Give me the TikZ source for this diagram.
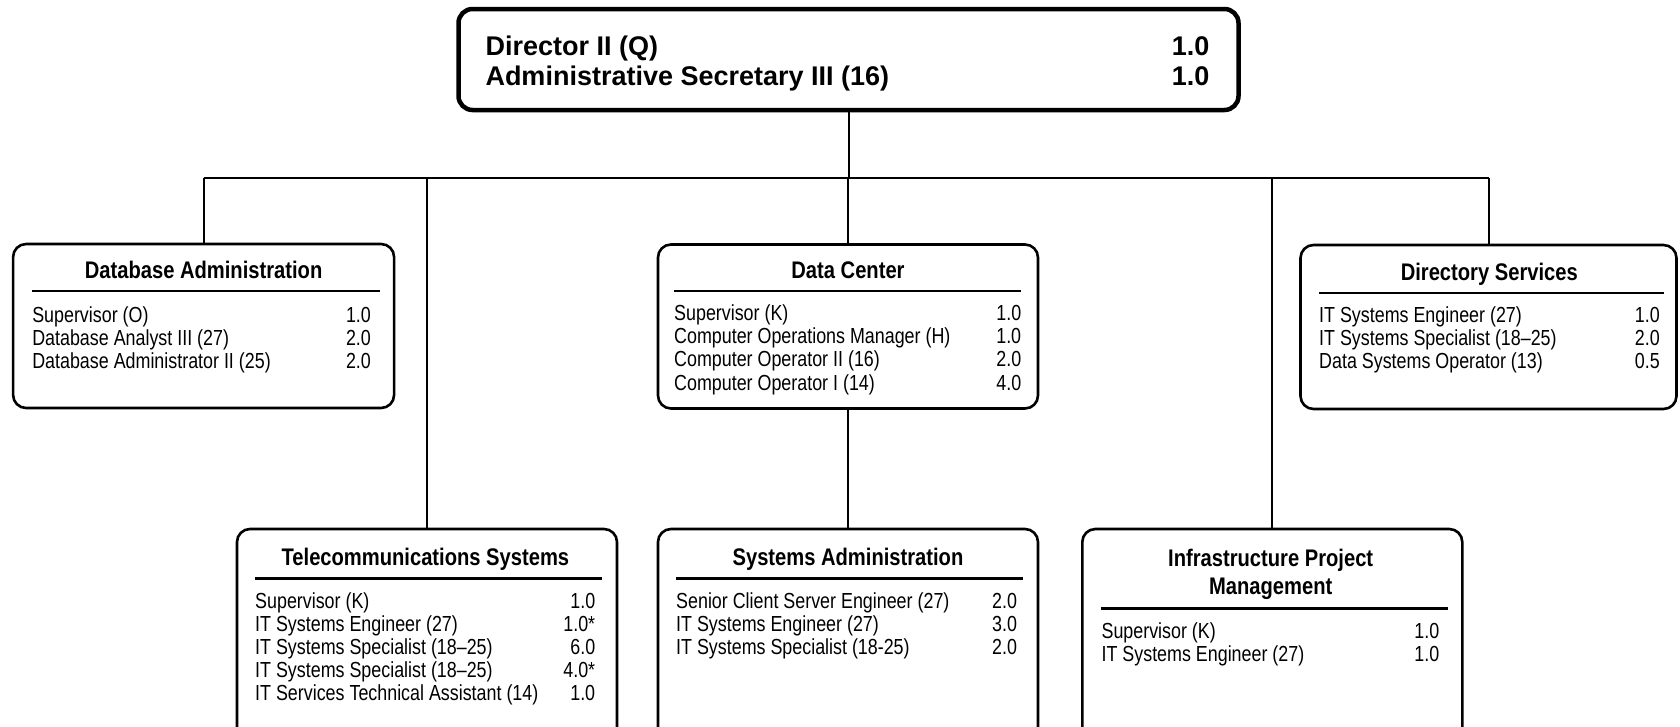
\documentclass[tikz,border=0pt]{standalone}
\usepackage{fontspec}
\setmainfont{Liberation Sans}[FakeStretch=0.82]
\newfontfamily\titlefam{Liberation Sans}[FakeStretch=0.84]
\newfontfamily\topfont{Liberation Sans}[FakeStretch=1.0]
\newcommand{\itemfont}{\fontsize{21.8}{23.2}\selectfont}
\newcommand{\titlefont}{\titlefam\bfseries\fontsize{24}{26}\selectfont}
\begin{document}
\begin{tikzpicture}[x=1pt,y=-1pt,
  unitbox/.style={draw, line width=2.6pt, rounded corners=13pt, inner sep=0pt},
  topbox/.style={draw, line width=4.5pt, rounded corners=14pt, inner sep=0pt},
  conn/.style={line width=2pt},
  rulebar/.style={line width=2.6pt},
  ttl/.style={anchor=base, inner sep=0pt, font=\titlefont},
  roster/.style={anchor=base west, inner sep=0pt, font=\itemfont}]
\useasboundingbox (0,0) rectangle (1680,726);
\fill[white] (0,0) rectangle (1680,726);
\begin{scope}
\clip (0,0) rectangle (1680,726);
% boxes
\node[topbox, minimum width=780pt, minimum height=101pt] (top) at (848.5,59.5) {};
\node[unitbox, minimum width=381pt, minimum height=164pt] (dba) at (203.6,326) {};
\node[unitbox, minimum width=380pt, minimum height=164pt] (dc) at (848,326.5) {};
\node[unitbox, minimum width=376pt, minimum height=164pt] (dir) at (1488.5,327) {};
\node[unitbox, minimum width=380pt, minimum height=211pt] (tel) at (427,634.5) {};
\node[unitbox, minimum width=380pt, minimum height=211pt] (sa) at (848,634.5) {};
\node[unitbox, minimum width=380pt, minimum height=211pt] (inf) at (1272.3,634.5) {};
% connectors
\coordinate (bus) at (848,178);
\draw[conn] (top.south) -- (top.south |- bus);
\draw[conn] (dba.north |- bus) -- (dir.north |- bus);
\draw[conn] (dba.north |- bus) -- (dba.north);
\draw[conn] (tel.north |- bus) -- (tel.north);
\draw[conn] (dc.north |- bus) -- (dc.north);
\draw[conn] (inf.north |- bus) -- (inf.north);
\draw[conn] (dir.north |- bus) -- (dir.north);
\draw[conn] (dc.south) -- (sa.north);
% top box text
\node[anchor=base west, inner sep=0pt, font=\topfont\bfseries\fontsize{27}{30}\selectfont] (toptext) at (485.3,55.5)
  {\begin{tabular*}{724pt}[t]{@{}l@{\extracolsep{\fill}}r@{}}
   Director II (Q) & 1.0\\
   Administrative Secretary III (16) & 1.0
   \end{tabular*}};
% Database Administration
\node[ttl] (dbat) at (203.6,278) {Database Administration};
\draw[rulebar] (32.1,291) -- (380.3,291);
\node[roster] (dbal) at (32.1,322.5)
  {\begin{tabular*}{338.6pt}[t]{@{}l@{\extracolsep{\fill}}r@{}}
   Supervisor (O) & 1.0\\
   Database Analyst III (27) & 2.0\\
   Database Administrator II (25) & 2.0
   \end{tabular*}};
% Data Center
\node[ttl] (dct) at (848,278) {Data Center};
\draw[rulebar] (674,291) -- (1021,291);
\node[roster] (dcl) at (674,320.5)
  {\begin{tabular*}{347pt}[t]{@{}l@{\extracolsep{\fill}}r@{}}
   Supervisor (K) & 1.0\\
   Computer Operations Manager (H) & 1.0\\
   Computer Operator II (16) & 2.0\\
   Computer Operator I (14) & 4.0
   \end{tabular*}};
% Directory Services
\node[ttl] (dirt) at (1489.3,280) {Directory Services};
\draw[rulebar] (1319,293) -- (1664,293);
\node[roster] (dirl) at (1319,322.5)
  {\begin{tabular*}{340.6pt}[t]{@{}l@{\extracolsep{\fill}}r@{}}
   IT Systems Engineer (27) & 1.0\\
   IT Systems Specialist (18–25) & 2.0\\
   Data Systems Operator (13) & 0.5
   \end{tabular*}};
% Telecommunications Systems
\node[ttl] (telt) at (425.4,565) {Telecommunications Systems};
\draw[rulebar] (255,578.5) -- (602,578.5);
\node[roster] (tell) at (255,608)
  {\begin{tabular*}{340pt}[t]{@{}l@{\extracolsep{\fill}}r@{}}
   Supervisor (K) & 1.0\\
   IT Systems Engineer (27) & 1.0*\\
   IT Systems Specialist (18–25) & 6.0\\
   IT Systems Specialist (18–25) & 4.0*\\
   IT Services Technical Assistant (14) & 1.0
   \end{tabular*}};
% Systems Administration
\node[ttl] (sat) at (848,565) {Systems Administration};
\draw[rulebar] (676,578.5) -- (1023,578.5);
\node[roster] (sal) at (676,608)
  {\begin{tabular*}{340.8pt}[t]{@{}l@{\extracolsep{\fill}}r@{}}
   Senior Client Server Engineer (27) & 2.0\\
   IT Systems Engineer (27) & 3.0\\
   IT Systems Specialist (18-25) & 2.0
   \end{tabular*}};
% Infrastructure Project Management
\node[ttl] (inft1) at (1270.7,566) {Infrastructure Project};
\node[ttl] (inft2) at (1270.7,594) {Management};
\draw[rulebar] (1101.4,608.5) -- (1447.5,608.5);
\node[roster] (infl) at (1101.4,638)
  {\begin{tabular*}{337.6pt}[t]{@{}l@{\extracolsep{\fill}}r@{}}
   Supervisor (K) & 1.0\\
   IT Systems Engineer (27) & 1.0
   \end{tabular*}};
\end{scope}
\end{tikzpicture}
\end{document}
